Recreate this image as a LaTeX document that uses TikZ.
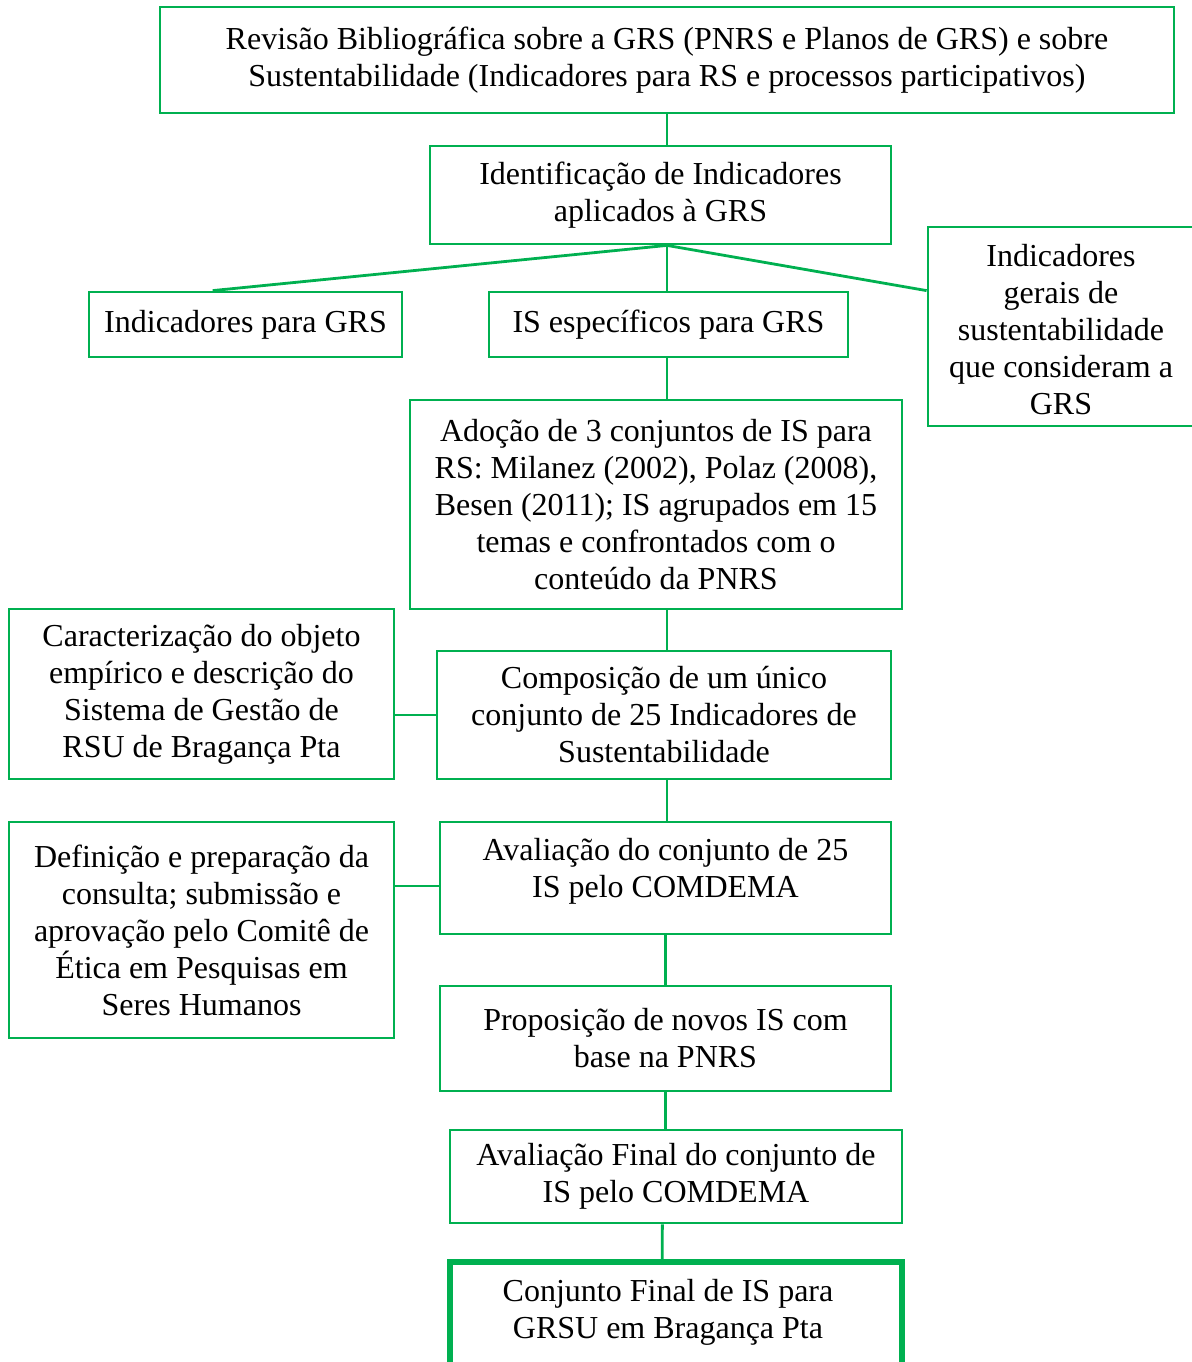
\documentclass[tikz,border=0pt]{standalone}
\usepackage{fontspec}
\setmainfont{Liberation Serif}
\usetikzlibrary{calc}
\definecolor{grn}{RGB}{0,176,80}
\tikzset{
  box/.style={draw=grn, line width=1.4pt, align=center, inner sep=0pt,
    font=\fontsize{16}{18.5}\selectfont},
  txt/.style={align=center, inner sep=0pt, font=\fontsize{16}{18.5}\selectfont},
  conn/.style={draw=grn, line width=1.4pt},
}
\newcommand{\bx}[6]{% name, left, top, right, bottom, text
  \node[box, minimum width={(#4-#2)*0.5pt}, minimum height={(#5-#3)*0.5pt}]
    (#1) at ({(#2+#4)/2},{(#3+#5)/2}) {#6};}
\begin{document}
\begin{tikzpicture}[x=0.5pt,y=-0.5pt]
\useasboundingbox (0,0) rectangle (1192,1362);
\bx{top}{160}{7}{1174}{113}{Revisão Bibliográfica sobre a GRS (PNRS e Planos de GRS) e sobre\\Sustentabilidade (Indicadores para RS e processos participativos)}
\bx{ident}{430}{146}{891}{244}{Identificação de Indicadores\\aplicados à GRS}
\bx{ind}{89}{292}{402}{357}{Indicadores para GRS}
\bx{ise}{489}{292}{848}{357}{IS específicos para GRS}
\node[box, minimum width={268*0.5pt}, minimum height={199*0.5pt}] (ger) at (1062,326.5) {};
\node[txt] (gert) at (1061,330) {Indicadores\\gerais de\\sustentabilidade\\que consideram a\\GRS};
\bx{ado}{410}{400}{902}{609}{Adoção de 3 conjuntos de IS para\\RS: Milanez (2002), Polaz (2008),\\Besen (2011); IS agrupados em 15\\temas e confrontados com o\\conteúdo da PNRS}
\bx{car}{9}{609}{394}{779}{Caracterização do objeto\\empírico e descrição do\\Sistema de Gestão de\\RSU de Bragança Pta}
\bx{comp}{437}{651}{891}{779}{Composição de um único\\conjunto de 25 Indicadores de\\Sustentabilidade}
\bx{def}{9}{822}{394}{1038}{Definição e preparação da\\consulta; submissão e\\aprovação pelo Comitê de\\Ética em Pesquisas em\\Seres Humanos}
\node[box, minimum width={451*0.5pt}, minimum height={112*0.5pt}] (aval) at (665.5,878) {};
\node[txt] (avalt) at (aval.center) [yshift=3.5pt] {Avaliação do conjunto de 25\\IS pelo COMDEMA};
\bx{prop}{440}{986}{891}{1091}{Proposição de novos IS com\\base na PNRS}
\bx{avf}{450}{1130}{902}{1223}{Avaliação Final do conjunto de\\IS pelo COMDEMA}
\node[box, line width=2.6pt, minimum width={452*0.5pt}, minimum height={112*0.5pt}] (fin) at (676,1318) {};
\node[txt] (fint) at (668,1312) {Conjunto Final de IS para\\GRSU em Bragança Pta};
\coordinate (c1) at (0,886);
\draw[conn] (top.south) -- (ident.north -| top.south);
\draw[conn] (ident.south -| top.south) -- ($(ind.north west)!0.396!(ind.north east)$);
\draw[conn] (ident.south -| top.south) -- (ise.north -| top.south);
\draw[conn] (ident.south -| top.south) -- (ise.north -| ger.west);
\draw[conn] (ise.south -| top.south) -- (ado.north -| top.south);
\draw[conn] (ado.south -| top.south) -- (comp.north -| top.south);
\draw[conn] (comp.west -| car.east) -- (comp.west);
\draw[conn] (comp.south -| top.south) -- (aval.north -| top.south);
\draw[conn] (c1 -| def.east) -- (c1 -| aval.west);
\draw[conn] (aval.south) -- (prop.north);
\draw[conn] (prop.south) -- (avf.north -| prop.south);
\draw[conn] ($(avf.south west)!0.47!(avf.south east)$) -- ($(fin.north west)!0.47!(fin.north east)$);
\end{tikzpicture}
\end{document}
